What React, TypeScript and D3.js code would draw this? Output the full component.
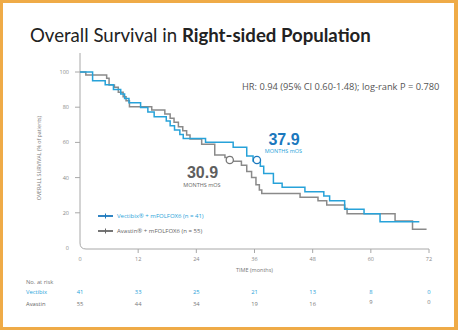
import React from "react";
import * as d3 from "d3";

const W = 458;
const H = 330;

const xTicks = [0, 12, 24, 36, 48, 60, 72];
const yTicks = [0, 20, 40, 60, 80, 100];

// Kaplan-Meier steps: [month, survival %]
const vectibixSteps: [number, number][] = [
  [0, 100], [2.6, 95], [5.2, 92.7], [6.9, 90], [8.4, 87.5], [9.2, 85], [10.1, 82.5],
  [12.5, 79.8], [14.0, 77.3], [15.3, 74.6], [17.8, 72.2], [18.6, 69.5], [19.5, 67],
  [20.6, 64.5], [21.3, 62.2], [25.9, 60.1], [31.6, 57.2], [34.4, 52.3], [35.7, 49.5],
  [37.2, 46.5], [37.9, 42.4], [39.9, 36.8], [41.7, 34.5], [46.4, 32], [50.3, 29.5],
  [51.5, 26.9], [54.6, 22], [58.6, 19.5], [61.9, 14.9], [70.0, 14.9],
];
const avastinSteps: [number, number][] = [
  [0, 100], [1.2, 98.3], [5.5, 96.4], [6.0, 92.6], [7.1, 91.3], [7.9, 88.5], [8.9, 86],
  [9.5, 83.7], [10.2, 80.3], [14.8, 78.4], [17.5, 76.1], [18.6, 73.7], [19.4, 71.4],
  [20.3, 68.9], [21.2, 66.6], [22.0, 64.2], [22.7, 61.9], [25.1, 58.9], [27.8, 52.8],
  [29.9, 51.4], [31.4, 49.3], [33.3, 47], [34.4, 43.5], [35.4, 40], [36.3, 36],
  [37.0, 33], [37.5, 31], [45.4, 28.8], [49.1, 26.9], [50.9, 24.4], [54.6, 22.4],
  [55.1, 19.5], [65.0, 15.3], [68.6, 10.6], [71.5, 10.6],
];

const medianVectibix = 37.9;
const medianAvastin = 30.9;
const medianMarkerVectibix: [number, number] = [36.5, 50];
const medianMarkerAvastin: [number, number] = [30.9, 50];

const riskTimes = [0, 12, 24, 36, 48, 60, 72];
const riskVectibix = ["41", "33", "25", "21", "13", "8", "0"];
const riskAvastin = ["55", "44", "34", "19", "16", "9", "0"];

const BLUE = "#27a2d9";
const BLUE_DARK = "#1b78bd";
const GREY = "#8a8a8a";
const AXIS = "#a8a8a8";
const FONT = "'Open Sans', 'Noto Sans', sans-serif";

export default function App() {
  const x = d3.scaleLinear().domain([0, 72]).range([80, 429]);
  const y = d3.scaleLinear().domain([0, 100]).range([248, 72]);
  const line = d3
    .line<[number, number]>()
    .x((d) => x(d[0]))
    .y((d) => y(d[1]))
    .curve(d3.curveStepAfter);

  const axisBottom = 249;
  const r = 6;

  return (
    <svg
      width={W}
      height={H}
      style={{ position: "absolute", left: 0, top: 0, display: "block" }}
      fontFamily={FONT}
    >
      <rect x={0} y={0} width={W} height={H} fill="#efab47" />
      <rect x={3} y={3} width={451} height={324} fill="#ffffff" />

      {/* Title */}
      <text x={30} y={42} fontSize={18.6} fill="#222" fontFamily="Lato, 'Open Sans', sans-serif">
        <tspan fontWeight={400}>Overall Survival in </tspan>
        <tspan fontWeight={700}>Right-sided Population</tspan>
      </text>

      {/* Axes */}
      <path
        d={`M${x(0)},53 L${x(0)},${axisBottom - r} Q${x(0)},${axisBottom} ${x(0) + r},${axisBottom} L${x(72)},${axisBottom}`}
        fill="none"
        stroke={AXIS}
        strokeWidth={1}
      />
      {yTicks.filter((t) => t > 0).map((t) => (
        <line key={"yt" + t} x1={x(0) - 5} x2={x(0)} y1={y(t)} y2={y(t)} stroke={AXIS} />
      ))}
      {yTicks.map((t) => (
        <text key={"yl" + t} x={69} y={y(t) + 2} fontSize={5.5} fill="#888" textAnchor="end">
          {t}
        </text>
      ))}
      {xTicks.filter((t) => t > 0).map((t) => (
        <line key={"xt" + t} x1={x(t)} x2={x(t)} y1={axisBottom} y2={axisBottom + 4} stroke={AXIS} />
      ))}
      {xTicks.map((t) => (
        <text key={"xl" + t} x={x(t)} y={261} fontSize={5.5} fill="#888" textAnchor="middle">
          {t}
        </text>
      ))}
      <text x={x(36)} y={272} fontSize={5.5} fill="#777" textAnchor="middle">
        TIME (months)
      </text>
      <text
        transform={`translate(41,158) rotate(-90)`}
        fontSize={5.3}
        fill="#777"
        textAnchor="middle"
      >
        OVERALL SURVIVAL (% of patients)
      </text>

      {/* HR */}
      <text x={242} y={90} fontSize={9.3} fill="#555">
        HR: 0.94 (95% CI 0.60-1.48); log-rank P = 0.780
      </text>

      {/* Curves */}
      <path d={line(avastinSteps) || ""} fill="none" stroke={GREY} strokeWidth={1.5} />
      <path d={line(vectibixSteps) || ""} fill="none" stroke={BLUE} strokeWidth={1.5} />

      <circle cx={x(medianMarkerAvastin[0])} cy={y(medianMarkerAvastin[1])} r={3.6} fill="#fff" stroke="#777" strokeWidth={1.3} />
      <circle cx={x(medianMarkerVectibix[0])} cy={y(medianMarkerVectibix[1])} r={3.6} fill="#fff" stroke={BLUE_DARK} strokeWidth={1.3} />

      {/* Median labels */}
      <text x={284} y={144.5} fontSize={16} fontWeight={700} fill={BLUE_DARK} textAnchor="middle"
        fontFamily="'Liberation Sans', Arial, sans-serif">
        {medianVectibix.toFixed(1)}
      </text>
      <text x={283.5} y={153} fontSize={5.5} fill={BLUE} textAnchor="middle">
        MONTHS mOS
      </text>
      <text x={202.5} y={177.5} fontSize={16} fontWeight={700} fill="#5f5f5f" textAnchor="middle"
        fontFamily="'Liberation Sans', Arial, sans-serif">
        {medianAvastin.toFixed(1)}
      </text>
      <text x={202} y={186.5} fontSize={5.5} fill="#666" textAnchor="middle">
        MONTHS mOS
      </text>

      {/* Legend */}
      <line x1={98} x2={113} y1={216} y2={216} stroke={BLUE_DARK} strokeWidth={1.8} />
      <line x1={105.5} x2={105.5} y1={213.5} y2={218.5} stroke={BLUE_DARK} strokeWidth={1} />
      <text x={117} y={218.1} fontSize={6.0} fill={BLUE}>
        Vectibix® + mFOLFOX6 (n = 41)
      </text>
      <line x1={98} x2={113} y1={231} y2={231} stroke="#666" strokeWidth={1.8} />
      <line x1={105.5} x2={105.5} y1={228.5} y2={233.5} stroke="#666" strokeWidth={1} />
      <text x={117} y={233.1} fontSize={6.0} fill="#666">
        Avastin® + mFOLFOX6 (n = 55)
      </text>

      {/* Number at risk */}
      <text x={26} y={284} fontSize={5.8} fill="#777">No. at risk</text>
      <text x={26} y={294} fontSize={5.8} fill={BLUE}>Vectibix</text>
      <text x={26} y={306} fontSize={5.8} fill="#666">Avastin</text>
      {riskTimes.map((t, i) => (
        <text key={"rv" + t} x={x(t)} y={294} fontSize={5.8} fill={BLUE} textAnchor="middle">
          {riskVectibix[i]}
        </text>
      ))}
      {riskTimes.map((t, i) => (
        <text key={"ra" + t} x={x(t)} y={i >= 5 ? 303.5 : 306} fontSize={5.8} fill="#777" textAnchor="middle">
          {riskAvastin[i]}
        </text>
      ))}
    </svg>
  );
}
